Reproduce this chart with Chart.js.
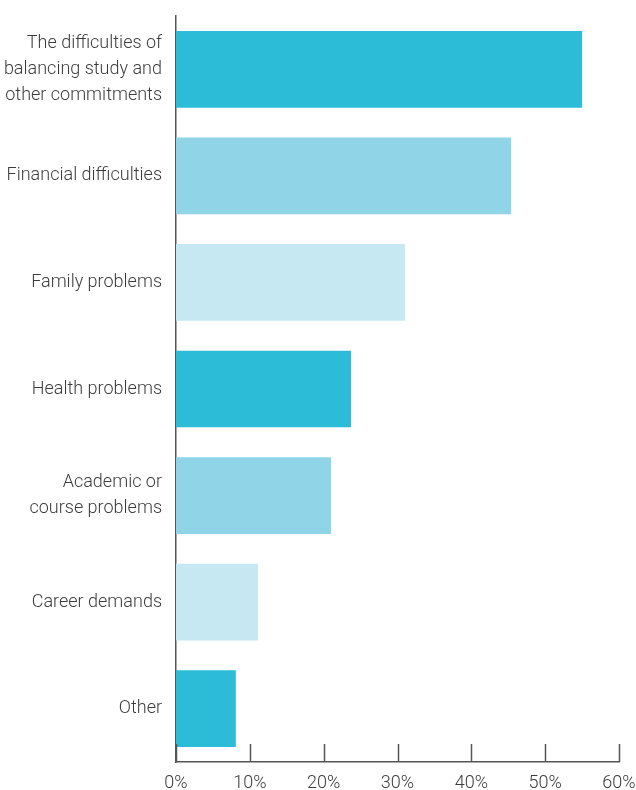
<!DOCTYPE html>
<html>
<head>
<meta charset="utf-8">
<title>Reasons for withdrawing</title>
<script src="https://cdn.jsdelivr.net/npm/chart.js@4"></script>
<style>
  html, body { margin: 0; padding: 0; background: #fff; }
  .chart-box { position: relative; width: 636px; height: 790px; }
</style>
</head>
<body>
<div class="chart-box"><canvas id="reasonsChart"></canvas></div>
<script>
// Reasons given, in percent of respondents
const categories = [
    ['The difficulties of', 'balancing study and', 'other commitments'],
    'Financial difficulties',
    'Family problems',
    'Health problems',
    ['Academic or', 'course problems'],
    'Career demands',
    'Other'
];
const percentages = [55, 45.4, 31, 23.7, 21, 11.1, 8.1];
const barColours = ['#2dbcd8', '#8fd4e7', '#c6e8f2', '#2dbcd8', '#8fd4e7', '#c6e8f2', '#2dbcd8'];
const xTicks = [0, 10, 20, 30, 40, 50, 60];

const fontFamily = "'Roboto', sans-serif";

// Tick marks on the x axis point up into the plot
const innerTicks = {
    id: 'innerTicks',
    afterDraw(chart) {
        const x = chart.scales.x;
        const ctx = chart.ctx;
        ctx.save();
        ctx.strokeStyle = '#555';
        ctx.lineWidth = 1.5;
        xTicks.forEach(function(v) {
            const px = Math.round(x.getPixelForValue(v)) + 0.5;
            ctx.beginPath();
            ctx.moveTo(px, x.top - 18);
            ctx.lineTo(px, x.top);
            ctx.stroke();
        });
        ctx.restore();
    }
};

new Chart(document.getElementById('reasonsChart'), {
    type: 'bar',
    data: {
        labels: categories,
        datasets: [{
            data: percentages,
            backgroundColor: barColours,
            borderWidth: 0,
            barPercentage: 1,
            categoryPercentage: 0.72
        }]
    },
    options: {
        indexAxis: 'y',
        responsive: true,
        maintainAspectRatio: false,
        animation: false,
        layout: { padding: { top: 16, left: 0, right: 0, bottom: 0 } },
        plugins: { legend: { display: false }, tooltip: { enabled: false } },
        scales: {
            x: {
                min: 0,
                max: 60,
                afterBuildTicks(scale) {
                    scale.ticks = xTicks.map(v => ({ value: v }));
                },
                afterFit(scale) {
                    scale.height = 28;
                    scale.paddingRight = 17;
                },
                grid: { display: false, drawTicks: false },
                border: { display: true, color: '#555', width: 1.5 },
                ticks: {
                    color: '#3c3c3c',
                    font: { family: fontFamily, size: 18, weight: 300 },
                    padding: 11,
                    maxRotation: 0,
                    callback: v => v + '%'
                }
            },
            y: {
                afterFit(scale) {
                    scale.width = 176;
                    scale.paddingTop = 0;
                    scale.paddingBottom = 0;
                },
                grid: { display: false, drawTicks: false },
                border: { display: true, color: '#555', width: 1.5 },
                ticks: {
                    color: '#3c3c3c',
                    font: { family: fontFamily, size: 18, weight: 300, lineHeight: 1.45 },
                    padding: 14
                }
            }
        }
    },
    plugins: [innerTicks]
});
</script>
</body>
</html>
